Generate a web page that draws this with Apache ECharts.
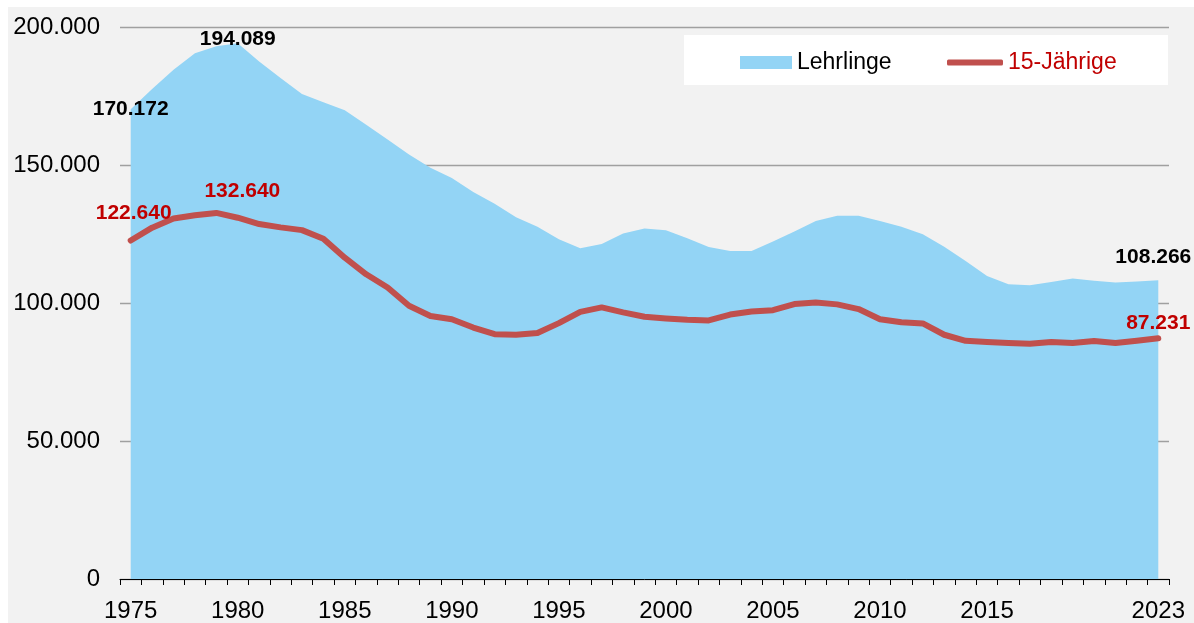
<!DOCTYPE html>
<html>
<head>
<meta charset="utf-8">
<script src="https://cdn.jsdelivr.net/npm/echarts@6/dist/echarts.min.js"></script>
<style>
  html, body { margin: 0; padding: 0; background: #fff; }
  #chart { position: absolute; left: 8px; top: 7px; width: 1186px; height: 616px; background: #f2f2f2; }
</style>
</head>
<body>
<div id="chart"></div>
<script>
// years 1975..2023
const years = [];
for (let y = 1975; y <= 2023; y++) years.push(String(y));

const lehrlinge = [
  170172, 177500, 184500, 190500, 193000,
  194089, 187500, 181500, 175700, 172700,
  169800, 164600, 159200, 153800, 149000,
  145300, 140200, 136000, 131100, 127600,
  123100, 119800, 121400, 125200, 127000,
  126400, 123500, 120300, 118800, 118800,
  122300, 125900, 129700, 131600, 131600,
  129700, 127600, 124900, 120400, 115200,
  109800, 106800, 106400, 107600, 108900,
  108100, 107400, 107800, 108266
];

const jaehrige15 = [
  122640, 127300, 130600, 131800, 132640,
  130900, 128600, 127400, 126400, 123300,
  116400, 110400, 105600, 99000, 95300,
  94100, 91100, 88700, 88500, 89100,
  92700, 96800, 98400, 96600, 95000,
  94400, 93900, 93700, 95800, 96900,
  97400, 99600, 100200, 99500, 97800,
  94100, 93000, 92600, 88500, 86300,
  85900, 85500, 85200, 85900, 85500,
  86200, 85500, 86300, 87231
];

const labeledYears = ['1975', '1980', '1985', '1990', '1995', '2000', '2005', '2010', '2015', '2023'];

const FONT = '"Liberation Sans", Arial, sans-serif';

function fmt(v) {
  return String(Math.round(v)).replace(/\B(?=(\d{3})+(?!\d))/g, '.');
}

// which points get a value label, and where
const lehrLabels = { 0: [0, 15], 5: [0, 11], 48: [-5, -7] };
const j15Labels = { 0: [3, -12], 4: [26, -6], 48: [0, 0] };

function withLabels(values, spots, color) {
  return values.map((v, i) => {
    if (!spots[i]) return v;
    return {
      value: v,
      label: {
        show: true,
        position: 'top',
        offset: spots[i],
        formatter: (p) => fmt(p.value),
        color: color,
        fontFamily: FONT,
        fontWeight: 'bold',
        fontSize: 21
      }
    };
  });
}

const chart = echarts.init(document.getElementById('chart'));
chart.setOption({
  animation: false,
  grid: { left: 112, right: 25, top: 20, bottom: 42, containLabel: false },
  graphic: [
    { type: 'rect', left: 676, top: 28, shape: { width: 484, height: 50 }, style: { fill: '#ffffff' }, z: 0 }
  ],
  legend: [
    {
      left: 727,
      top: 39,
      itemWidth: 52,
      itemHeight: 13,
      itemGap: 5,
      icon: 'rect',
      textStyle: { fontFamily: FONT, fontSize: 23, color: '#000' },
      data: ['Lehrlinge']
    },
    {
      left: 934,
      top: 39,
      itemWidth: 56,
      itemHeight: 6,
      icon: 'roundRect',
      textStyle: { fontFamily: FONT, fontSize: 23, color: '#c00000' },
      data: ['15-Jährige']
    }
  ],
  xAxis: {
    type: 'category',
    data: years,
    boundaryGap: true,
    axisLine: { lineStyle: { color: '#000', width: 1 } },
    axisTick: { show: true, interval: 0, length: 6, lineStyle: { color: '#000' } },
    axisLabel: {
      interval: (i, val) => labeledYears.indexOf(val) >= 0,
      hideOverlap: false,
      margin: 20,
      color: '#000',
      fontFamily: FONT,
      fontSize: 24
    },
    splitLine: { show: false }
  },
  yAxis: {
    type: 'value',
    min: 0,
    max: 200000,
    interval: 50000,
    axisLine: { show: false },
    axisTick: { show: false },
    axisLabel: {
      margin: 20,
      color: '#000',
      fontFamily: FONT,
      fontSize: 24,
      formatter: (v) => fmt(v)
    },
    splitLine: { lineStyle: { color: '#a0a0a0', width: 1.3 } }
  },
  series: [
    {
      name: 'Lehrlinge',
      type: 'line',
      data: withLabels(lehrlinge, lehrLabels, '#000'),
      symbol: 'circle',
      symbolSize: 0,
      showAllSymbol: true,
      color: '#93d4f5',
      lineStyle: { width: 0, color: '#93d4f5' },
      areaStyle: { color: '#93d4f5', opacity: 1 },
      z: 1
    },
    {
      name: '15-Jährige',
      type: 'line',
      data: withLabels(jaehrige15, j15Labels, '#c00000'),
      symbol: 'circle',
      symbolSize: 0,
      showAllSymbol: true,
      color: '#c0504d',
      lineStyle: { width: 6, color: '#c0504d', cap: 'round', join: 'round' },
      z: 3
    }
  ]
});
</script>
</body>
</html>
